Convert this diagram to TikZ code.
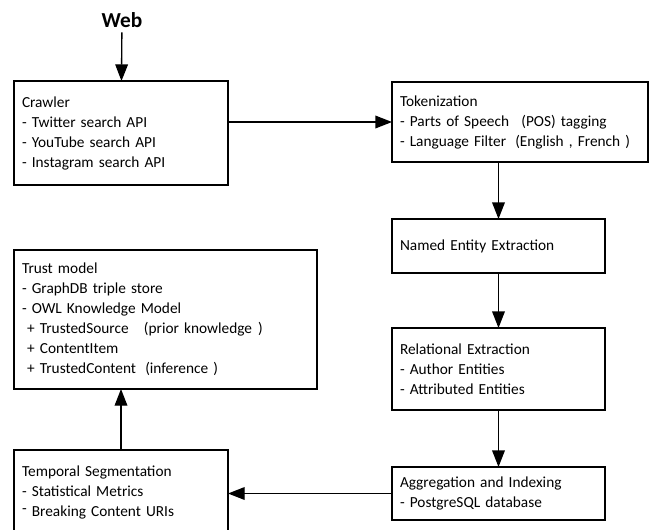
\documentclass[tikz,border=0pt]{standalone}
\usepackage{fontspec}
\setmainfont{Carlito}
\usetikzlibrary{arrows.meta}
\tikzset{
    stage/.style={draw, line width=0.9pt, anchor=north west, align=left, outer sep=0pt,
        inner xsep=6pt, inner ysep=0pt, font=\fontsize{11.5}{15}\selectfont},
    flow/.style={->, line width=1pt}
}
\begin{document}
\begin{tikzpicture}[>={Triangle[length=12.5pt,width=9.5pt]}, x=0.75pt, y=-0.75pt]
\clip(0,0) rectangle (650,529);
\node (web) at (122,20) {\fontsize{16}{18}\selectfont\bfseries Web};
\node[stage, text width=148.5pt, minimum height=78pt] (crawler) at (14,81)
    {Crawler\\- Twitter search API\\- YouTube search API\\- Instagram search API};
\node[stage, text width=180pt, minimum height=60pt] (token) at (392,82)
    {Tokenization\\- Parts of Speech\hspace{0.8em}(POS) tagging\\- Language Filter\hspace{0.6em}(English , French )};
\node[stage, text width=147.75pt, minimum height=40.5pt] (ner) at (392,219)
    {Named Entity Extraction};
\node[stage, text width=147.75pt, minimum height=61.5pt] (rel) at (392,328)
    {Relational Extraction\\- Author Entities\\- Attributed Entities};
\node[stage, text width=147.75pt, minimum height=39.75pt] (agg) at (392,467)
    {Aggregation and Indexing\\- PostgreSQL database};
\node[stage, text width=215.25pt, minimum height=104.25pt] (trust) at (14,250)
    {Trust model\\- GraphDB triple store\\- OWL Knowledge Model\\
    \ + TrustedSource\hspace{1em}(prior knowledge\hspace{0.4em})\\
    \ + ContentItem\\
    \ + TrustedContent\hspace{0.6em}(inference )};
\node[stage, text width=148.5pt, minimum height=63.75pt] (temporal) at (14,450)
    {Temporal Segmentation\\- Statistical Metrics\\\raisebox{2pt}{-} Breaking Content URIs};

\draw[flow](web)--(crawler);
\draw[flow](crawler.east |- token.west)--(token.west);
\draw[flow](token.south -| ner.north)--(ner.north);
\draw[flow](ner)--(rel);
\draw[flow](rel)--(agg);
\draw[flow](agg.west)--(agg.west -| temporal.east);
\draw[flow](temporal.north)--(temporal.north |- trust.south);

\end{tikzpicture}
\end{document}
